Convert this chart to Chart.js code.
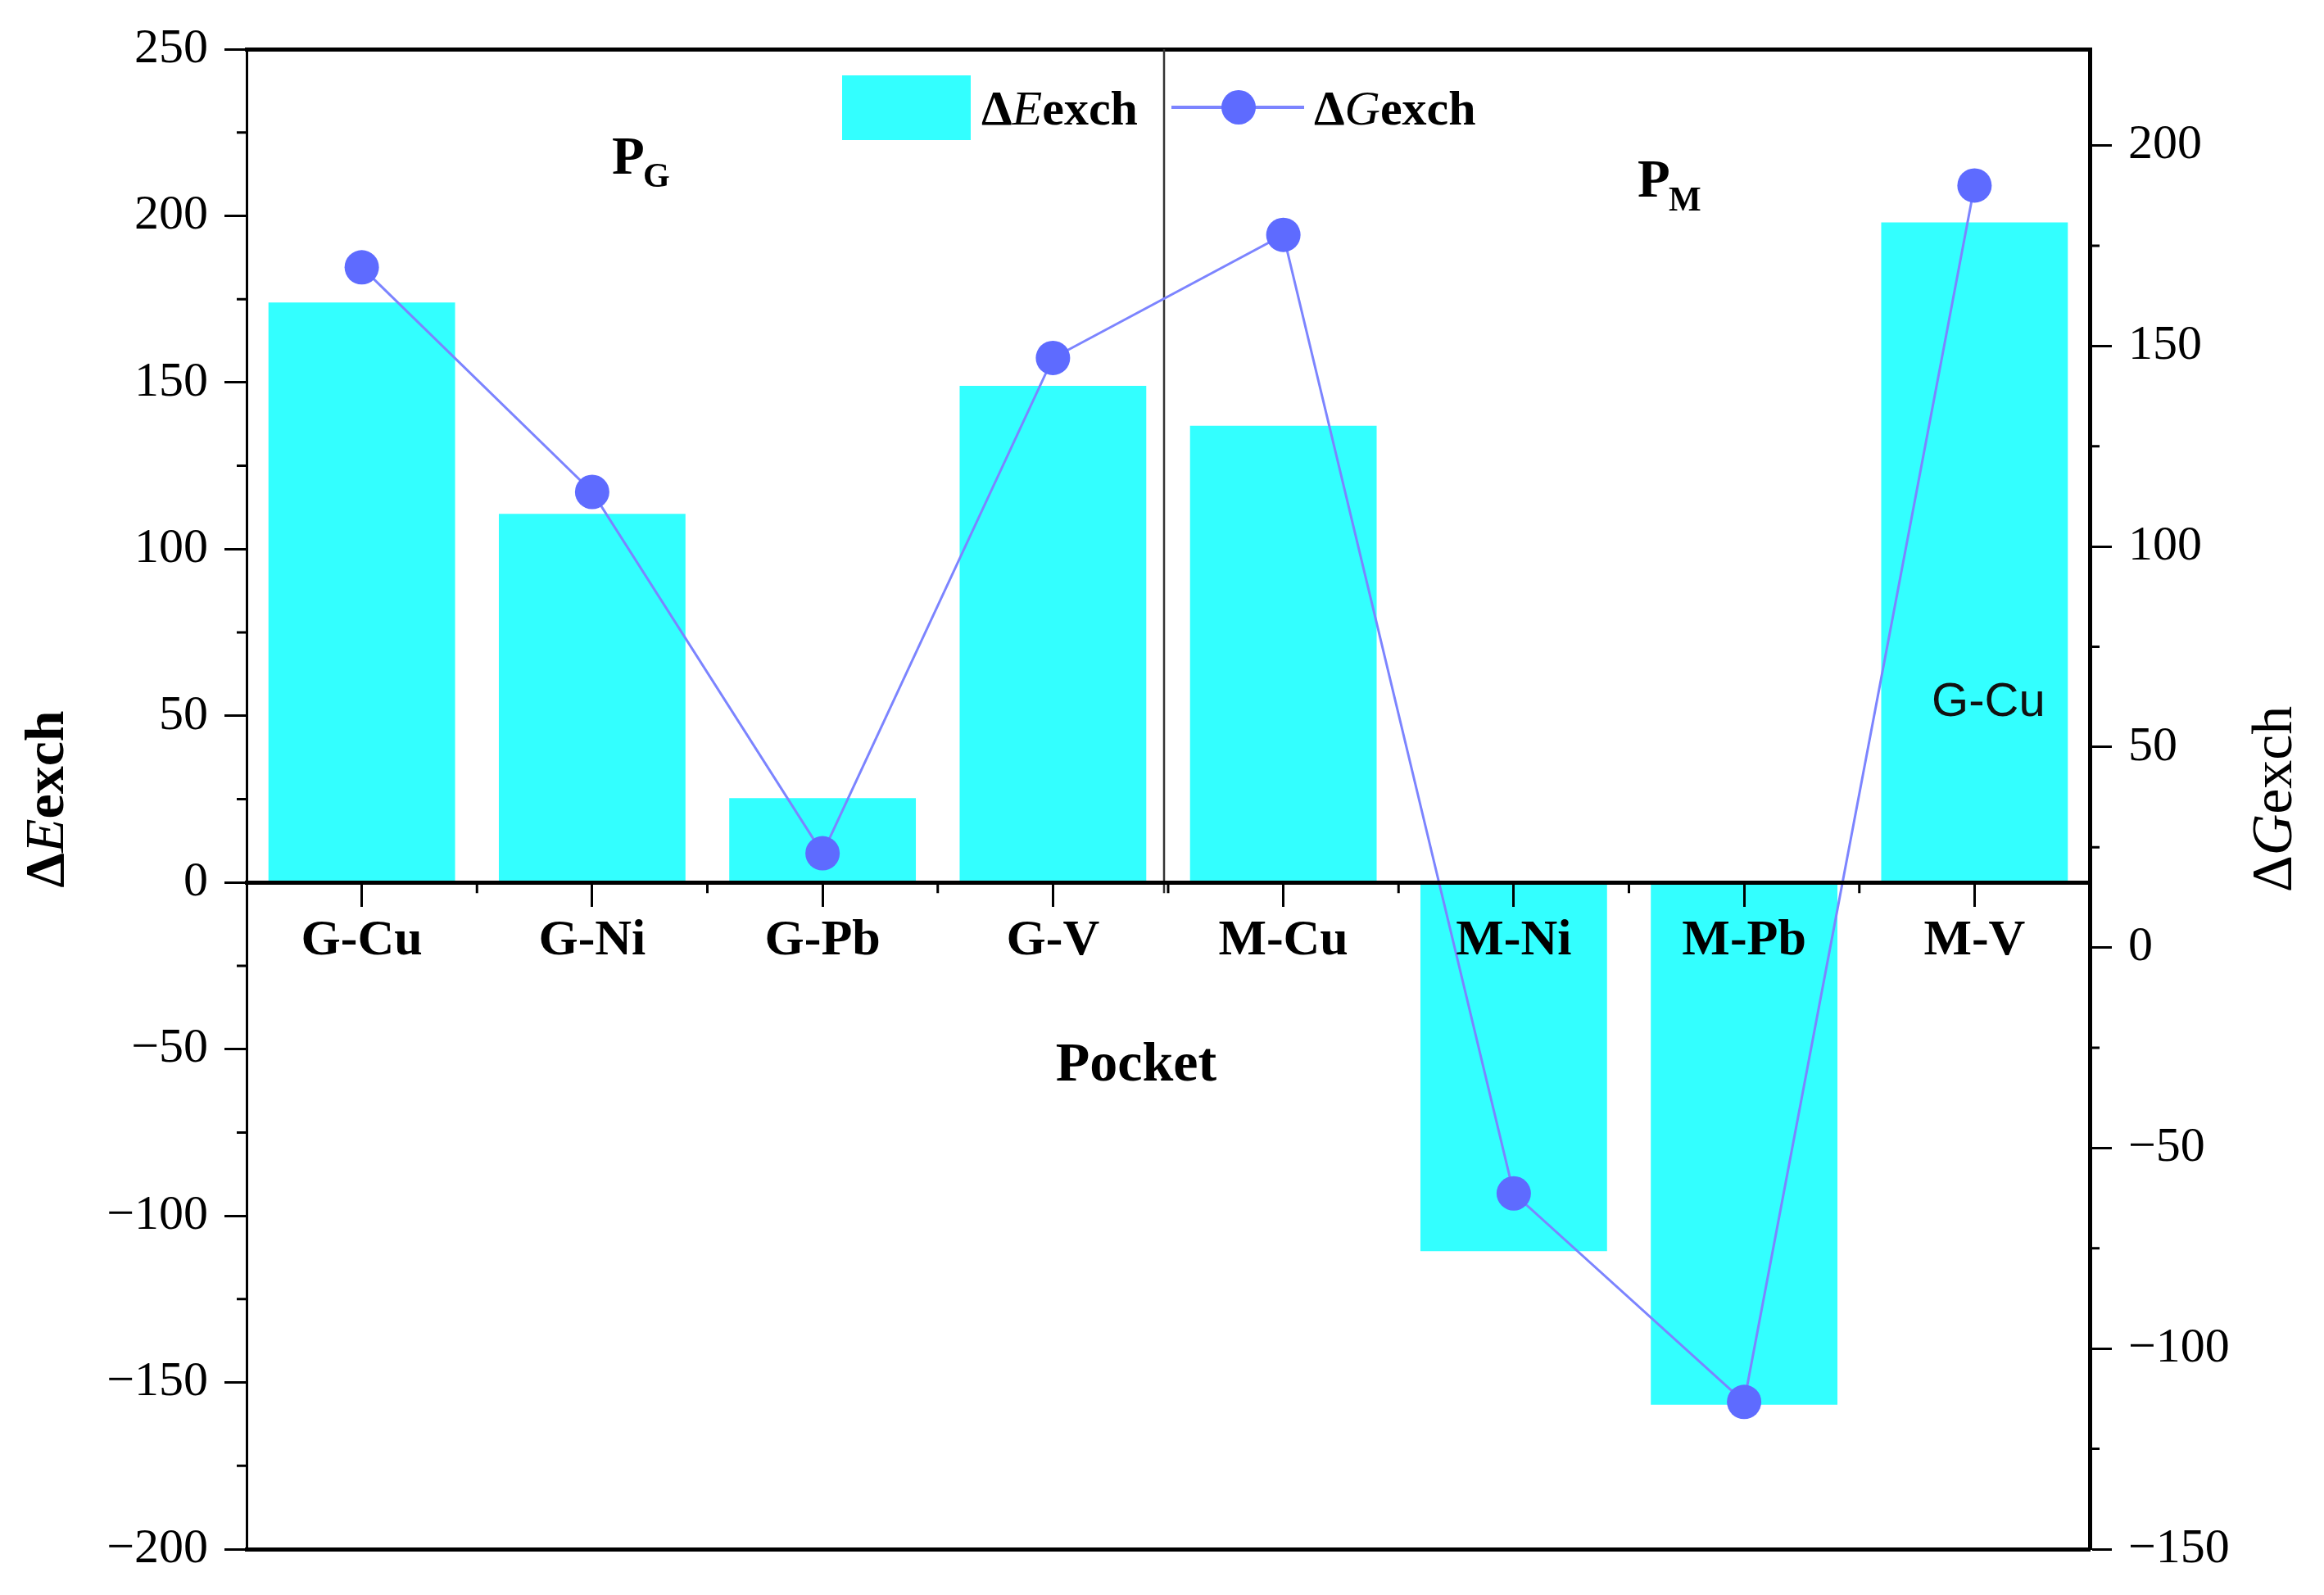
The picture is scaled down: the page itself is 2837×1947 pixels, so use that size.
<!DOCTYPE html>
<html>
<head>
<meta charset="utf-8">
<script src="https://cdn.jsdelivr.net/npm/chart.js@4.4.0/dist/chart.umd.min.js"></script>
<style>
  html, body { margin: 0; padding: 0; background: #fff; }
  canvas { display: block; }
</style>
</head>
<body>
<canvas id="pocket" width="2837" height="1947"></canvas>
<script>
// pockets on the x axis
var pockets = ['G-Cu', 'G-Ni', 'G-Pb', 'G-V', 'M-Cu', 'M-Ni', 'M-Pb', 'M-V'];
// exchange energy (bars, left axis) and free energy (line, right axis)
var deltaE = [174, 110.6, 25.3, 149, 137, -110.6, -156.7, 198];
var deltaG = [169.6, 113.6, 23.5, 147, 177.7, -61.3, -113.3, 190];
// tick values of both y axes
var leftTicks = [-200, -150, -100, -50, 0, 50, 100, 150, 200, 250];
var rightTicks = [-150, -100, -50, 0, 50, 100, 150, 200];

var SERIF = "'Liberation Serif', 'Times New Roman', serif";
Chart.defaults.font.family = SERIF;
Chart.defaults.color = '#000';

function minus(v) { return String(v).replace('-', '\u2212'); }

// draws text pieces one after another, each with its own font
function richWidth(ctx, parts) {
  var w = 0;
  parts.forEach(function(p) { ctx.font = p[1]; w += ctx.measureText(p[0]).width; });
  return w;
}
function richText(ctx, parts, x, y) {
  parts.forEach(function(p) {
    ctx.font = p[1];
    ctx.fillText(p[0], x, y);
    x += ctx.measureText(p[0]).width;
  });
}
// "ΔEexch" -> Δ, italic E, exch
function symbolParts(label, size, weight) {
  return [
    [label.charAt(0), weight + ' ' + size + 'px ' + SERIF],
    [label.charAt(1), 'italic ' + size + 'px ' + SERIF],
    [label.slice(2), weight + ' ' + size + 'px ' + SERIF]
  ];
}

var decor = {
  id: 'decor',
  beforeDatasetsDraw: function(chart) {
    var ctx = chart.ctx, xs = chart.scales.x, ys = chart.scales.y, a = chart.chartArea;
    var y0 = ys.getPixelForValue(0);
    // divider between the G and M pockets
    var px = (xs.getPixelForValue(3) + xs.getPixelForValue(4)) / 2 - 5;
    ctx.save();
    ctx.strokeStyle = '#333';
    ctx.lineWidth = 2.5;
    ctx.beginPath();
    ctx.moveTo(px, a.top);
    ctx.lineTo(px, y0 + 13);
    ctx.stroke();
    ctx.restore();
  },
  afterDraw: function(chart) {
    var ctx = chart.ctx, xs = chart.scales.x, ys = chart.scales.y, yr = chart.scales.y1, a = chart.chartArea;
    var y0 = ys.getPixelForValue(0), v, p, i;
    ctx.save();
    // minor ticks
    ctx.strokeStyle = '#000';
    ctx.lineWidth = 3;
    ctx.beginPath();
    for (v = ys.min + 25; v < ys.max; v += 50) {
      p = ys.getPixelForValue(v);
      ctx.moveTo(a.left - 12, p); ctx.lineTo(a.left, p);
    }
    for (v = yr.min + 25; v < yr.max; v += 50) {
      p = yr.getPixelForValue(v);
      ctx.moveTo(a.right, p); ctx.lineTo(a.right + 12, p);
    }
    for (i = 1; i < pockets.length; i++) {
      p = (xs.getPixelForValue(i - 1) + xs.getPixelForValue(i)) / 2;
      ctx.moveTo(p, y0); ctx.lineTo(p, y0 + 13);
    }
    ctx.stroke();

    ctx.fillStyle = '#000';
    ctx.textBaseline = 'alphabetic';

    // legend inside the plot
    var ds = chart.data.datasets;
    var cx = (a.left + a.right) / 2;
    ctx.fillStyle = ds[0].backgroundColor;
    ctx.fillRect(cx - 398, a.top + 32, 157, 79);
    ctx.fillStyle = '#000';
    richText(ctx, symbolParts(ds[0].label, 60, 'bold'), cx - 228, a.top + 92);
    ctx.strokeStyle = ds[1].borderColor;
    ctx.lineWidth = 4;
    ctx.beginPath();
    ctx.moveTo(cx + 4, a.top + 71); ctx.lineTo(cx + 166, a.top + 71);
    ctx.stroke();
    ctx.fillStyle = ds[1].pointBackgroundColor;
    ctx.beginPath();
    ctx.arc(cx + 86, a.top + 71, 21, 0, Math.PI * 2);
    ctx.fill();
    ctx.fillStyle = '#000';
    richText(ctx, symbolParts(ds[1].label, 60, 'bold'), cx + 178, a.top + 92);

    // pocket group labels
    richText(ctx, [['P', 'bold 65px ' + SERIF]], 747, 212);
    richText(ctx, [['G', 'bold 42px ' + SERIF]], 785, 228);
    richText(ctx, [['P', 'bold 65px ' + SERIF]], 1999, 240);
    richText(ctx, [['M', 'bold 42px ' + SERIF]], 2037, 257);

    // stray label inside the last bar
    ctx.font = "58px 'Liberation Sans', Arial, sans-serif";
    ctx.textAlign = 'center';
    ctx.textBaseline = 'middle';
    ctx.fillStyle = '#111';
    ctx.fillText('G-Cu', xs.getPixelForValue(7) + 17, ys.getPixelForValue(54));

    // x axis title, under the tick labels at the zero line
    ctx.fillStyle = '#000';
    ctx.font = 'bold 68px ' + SERIF;
    ctx.fillText('Pocket', cx - 39, y0 + 224);

    // y axis titles, both read bottom to top
    var cy = (a.top + a.bottom) / 2;
    ctx.textAlign = 'left';
    var parts = symbolParts(ds[0].label, 68, 'bold');
    ctx.save();
    ctx.translate(59, cy);
    ctx.rotate(-Math.PI / 2);
    richText(ctx, parts, -richWidth(ctx, parts) / 2, 0);
    ctx.restore();
    parts = symbolParts(ds[1].label, 70, 'normal');
    ctx.save();
    ctx.translate(2779, cy);
    ctx.rotate(-Math.PI / 2);
    richText(ctx, parts, -richWidth(ctx, parts) / 2, 0);
    ctx.restore();

    ctx.restore();
  }
};

new Chart('pocket', {
  data: {
    labels: pockets,
    datasets: [
      {
        type: 'bar',
        label: '\u0394Eexch',
        data: deltaE,
        backgroundColor: '#33FFFF',
        borderWidth: 0,
        barPercentage: 0.81,
        categoryPercentage: 1,
        xAxisID: 'x',
        yAxisID: 'y',
        order: 2
      },
      {
        type: 'line',
        label: '\u0394Gexch',
        data: deltaG,
        borderColor: '#7C84FF',
        borderWidth: 3,
        pointRadius: 21,
        pointBackgroundColor: '#5E6BFF',
        pointBorderWidth: 0,
        tension: 0,
        xAxisID: 'x',
        yAxisID: 'y1',
        order: 1
      }
    ]
  },
  options: {
    responsive: false,
    devicePixelRatio: 1,
    animation: false,
    layout: { padding: { top: 60, left: 0, right: 0, bottom: 0 } },
    plugins: { legend: { display: false }, tooltip: { enabled: false } },
    scales: {
      x: {
        type: 'category',
        position: { y: 0 },
        offset: true,
        grid: { offset: false, drawOnChartArea: false, tickLength: 27, tickWidth: 3, tickColor: '#000', z: 1 },
        border: { color: '#000', width: 5, z: 1 },
        ticks: { font: { size: 62, weight: 'bold' }, padding: 8, maxRotation: 0, autoSkip: false, z: 1 }
      },
      xt: {
        type: 'category',
        axis: 'x',
        position: 'top',
        grid: { display: false },
        ticks: { display: false },
        border: { color: '#000', width: 5 },
        afterFit: function(s) { s.height = 0; }
      },
      xb: {
        type: 'category',
        axis: 'x',
        position: 'bottom',
        grid: { display: false },
        ticks: { display: false },
        border: { color: '#000', width: 5 },
        afterFit: function(s) { s.height = 50; }
      },
      y: {
        position: 'left',
        min: -200,
        max: 250,
        afterBuildTicks: function(s) { s.ticks = leftTicks.map(function(v) { return { value: v }; }); },
        grid: { drawOnChartArea: false, tickLength: 27, tickWidth: 3, tickColor: '#000' },
        border: { color: '#000', width: 3 },
        ticks: { font: { size: 60 }, padding: 20, callback: minus },
        afterFit: function(s) { s.width = 301; }
      },
      y1: {
        position: 'right',
        min: -150,
        max: 224,
        afterBuildTicks: function(s) { s.ticks = rightTicks.map(function(v) { return { value: v }; }); },
        grid: { drawOnChartArea: false, tickLength: 27, tickWidth: 3, tickColor: '#000' },
        border: { color: '#000', width: 5 },
        ticks: { font: { size: 60 }, padding: 20, callback: minus },
        afterFit: function(s) { s.width = 286; }
      }
    }
  },
  plugins: [decor]
});
</script>
</body>
</html>
